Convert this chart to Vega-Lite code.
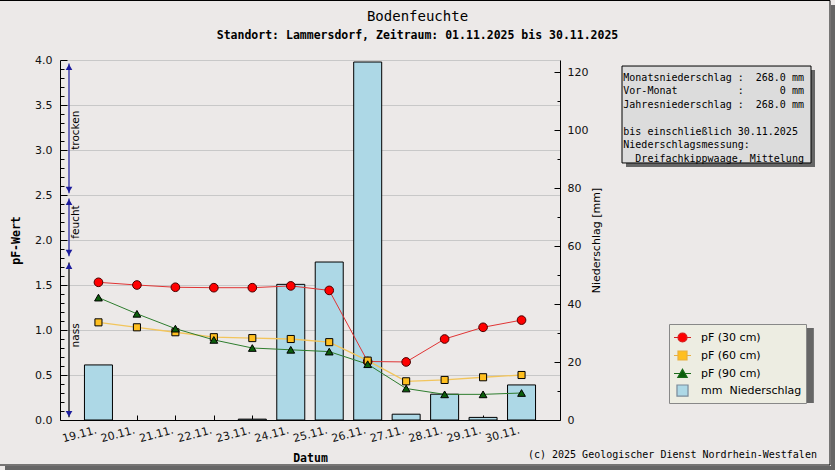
{
  "$schema": "https://vega.github.io/schema/vega-lite/v6.json",
  "width": 500,
  "height": 360,
  "autosize": "none",
  "padding": {"left": 60, "top": 60, "right": 275, "bottom": 50},
  "background": "#ECE9E8",
  "config": {"view": {"fill": "white", "stroke": null}, "font": "DejaVu Sans"},
  "title": {
    "text": "Bodenfeuchte",
    "subtitle": "Standort: Lammersdorf, Zeitraum: 01.11.2025 bis 30.11.2025",
    "anchor": "middle", "frame": "group", "dx": 107.5, "offset": -41,
    "font": "DejaVu Sans Mono", "fontSize": 14, "fontWeight": "normal", "color": "black",
    "subtitleFont": "DejaVu Sans Mono", "subtitleFontSize": 11.5, "subtitleFontWeight": "bold",
    "subtitleColor": "black", "subtitlePadding": 6
  },
  "datasets": {
    "soil": [
      {"day": 19, "p30": 1.53, "p60": 1.085, "p90": 1.36, "mm": 19.0},
      {"day": 20, "p30": 1.50, "p60": 1.03, "p90": 1.18, "mm": 0},
      {"day": 21, "p30": 1.475, "p60": 0.975, "p90": 1.015, "mm": 0},
      {"day": 22, "p30": 1.47, "p60": 0.92, "p90": 0.89, "mm": 0},
      {"day": 23, "p30": 1.47, "p60": 0.91, "p90": 0.80, "mm": 0.3},
      {"day": 24, "p30": 1.49, "p60": 0.90, "p90": 0.78, "mm": 46.8},
      {"day": 25, "p30": 1.44, "p60": 0.865, "p90": 0.76, "mm": 54.5},
      {"day": 26, "p30": 0.65, "p60": 0.66, "p90": 0.62, "mm": 123.5},
      {"day": 27, "p30": 0.645, "p60": 0.43, "p90": 0.35, "mm": 2.0},
      {"day": 28, "p30": 0.90, "p60": 0.445, "p90": 0.285, "mm": 8.9},
      {"day": 29, "p30": 1.03, "p60": 0.475, "p90": 0.285, "mm": 0.9},
      {"day": 30, "p30": 1.11, "p60": 0.50, "p90": 0.30, "mm": 12.1}
    ],
    "zones": [
      {"zone": "trocken", "top": 3.96, "bottom": 2.52, "mid": 3.22},
      {"zone": "feucht", "top": 2.46, "bottom": 1.82, "mid": 2.2},
      {"zone": "nass", "top": 1.75, "bottom": 0.03, "mid": 0.94}
    ]
  },
  "layer": [
    {
      "data": {"name": "soil"},
      "transform": [{"filter": "datum.mm > 0"}],
      "mark": {"type": "bar", "size": 28, "fill": "#ADD8E6", "stroke": "black", "strokeWidth": 1},
      "encoding": {
        "x": {
          "field": "day", "type": "quantitative",
          "scale": {"domain": [18, 31], "nice": false, "zero": false, "padding": 0},
          "axis": {
            "title": "Datum", "titleFont": "DejaVu Sans Mono", "titleFontWeight": "bold", "titleFontSize": 11.5,
            "titleColor": "black", "titlePadding": 9,
            "values": [19, 20, 21, 22, 23, 24, 25, 26, 27, 28, 29, 30],
            "labelExpr": "datum.value + '.11.'",
            "labelAngle": -15, "labelAlign": "right", "labelBaseline": "top", "labelOffset": -4,
            "labelFont": "DejaVu Sans", "labelFontSize": 11, "labelColor": "#111", "labelPadding": 9,
            "labelOverlap": false, "labelFlush": false,
            "tickSize": -5, "tickColor": "black", "domainColor": "black", "grid": false
          }
        },
        "y": {
          "field": "mm", "type": "quantitative",
          "scale": {"domain": [0, 124.2], "nice": false},
          "axis": {
            "orient": "right", "title": "Niederschlag [mm]", "titleFont": "DejaVu Sans", "titleFontWeight": "normal",
            "titleFontSize": 11, "titleColor": "black", "titlePadding": 14, "titleAngle": 270,
            "values": [0, 10, 20, 30, 40, 50, 60, 70, 80, 90, 100, 110, 120],
            "labelExpr": "datum.value % 20 == 0 ? datum.value : ''",
            "labelOverlap": false, "labelFont": "DejaVu Sans", "labelFontSize": 11, "labelColor": "#111", "labelPadding": 13,
            "tickSize": {"condition": {"test": "datum.value % 20 == 0", "value": -6}, "value": -3},
            "tickColor": "black", "domainColor": "black", "grid": false
          }
        }
      }
    },
    {
      "layer": [
        {
          "data": {"name": "soil"},
          "mark": {"type": "line", "stroke": "#e03434", "strokeWidth": 1},
          "encoding": {
            "x": {"field": "day", "type": "quantitative", "scale": {"domain": [18, 31], "nice": false, "zero": false, "padding": 0}},
            "y": {"field": "p30", "type": "quantitative", "scale": {"domain": [0, 4], "nice": false},
              "axis": {"orient": "left", "title": "pF-Wert", "titleFont": "DejaVu Sans Mono", "titleFontWeight": "bold", "titleFontSize": 11.5, "titleColor": "black", "titlePadding": 13, "values": [0, 0.1, 0.2, 0.3, 0.4, 0.5, 0.6, 0.7, 0.8, 0.9, 1.0, 1.1, 1.2, 1.3, 1.4, 1.5, 1.6, 1.7, 1.8, 1.9, 2.0, 2.1, 2.2, 2.3, 2.4, 2.5, 2.6, 2.7, 2.8, 2.9, 3.0, 3.1, 3.2, 3.3, 3.4, 3.5, 3.6, 3.7, 3.8, 3.9, 4.0], "labelExpr": "round(datum.value * 10) % 5 == 0 ? format(datum.value, '.1f') : ''", "labelOverlap": false, "labelFont": "DejaVu Sans", "labelFontSize": 11, "labelColor": "#111", "labelPadding": 15, "tickSize": {"condition": {"test": "round(datum.value * 10) % 5 == 0", "value": -7}, "value": -4}, "tickColor": "black", "domainColor": "black", "grid": true, "gridColor": "#c8c8c8", "gridOpacity": {"condition": {"test": "round(datum.value * 10) % 5 == 0", "value": 1}, "value": 0}}}
          }
        },
        {
          "data": {"name": "soil"},
          "mark": {"type": "line", "stroke": "#f2c55c", "strokeWidth": 1.3},
          "encoding": {
            "x": {"field": "day", "type": "quantitative", "scale": {"domain": [18, 31], "nice": false, "zero": false, "padding": 0}},
            "y": {"field": "p60", "type": "quantitative", "scale": {"domain": [0, 4], "nice": false},
              "axis": {"orient": "left", "title": "pF-Wert", "titleFont": "DejaVu Sans Mono", "titleFontWeight": "bold", "titleFontSize": 11.5, "titleColor": "black", "titlePadding": 13, "values": [0, 0.1, 0.2, 0.3, 0.4, 0.5, 0.6, 0.7, 0.8, 0.9, 1.0, 1.1, 1.2, 1.3, 1.4, 1.5, 1.6, 1.7, 1.8, 1.9, 2.0, 2.1, 2.2, 2.3, 2.4, 2.5, 2.6, 2.7, 2.8, 2.9, 3.0, 3.1, 3.2, 3.3, 3.4, 3.5, 3.6, 3.7, 3.8, 3.9, 4.0], "labelExpr": "round(datum.value * 10) % 5 == 0 ? format(datum.value, '.1f') : ''", "labelOverlap": false, "labelFont": "DejaVu Sans", "labelFontSize": 11, "labelColor": "#111", "labelPadding": 15, "tickSize": {"condition": {"test": "round(datum.value * 10) % 5 == 0", "value": -7}, "value": -4}, "tickColor": "black", "domainColor": "black", "grid": true, "gridColor": "#c8c8c8", "gridOpacity": {"condition": {"test": "round(datum.value * 10) % 5 == 0", "value": 1}, "value": 0}}}
          }
        },
        {
          "data": {"name": "soil"},
          "mark": {"type": "line", "stroke": "#2e7d2e", "strokeWidth": 1},
          "encoding": {
            "x": {"field": "day", "type": "quantitative", "scale": {"domain": [18, 31], "nice": false, "zero": false, "padding": 0}},
            "y": {"field": "p90", "type": "quantitative", "scale": {"domain": [0, 4], "nice": false},
              "axis": {"orient": "left", "title": "pF-Wert", "titleFont": "DejaVu Sans Mono", "titleFontWeight": "bold", "titleFontSize": 11.5, "titleColor": "black", "titlePadding": 13, "values": [0, 0.1, 0.2, 0.3, 0.4, 0.5, 0.6, 0.7, 0.8, 0.9, 1.0, 1.1, 1.2, 1.3, 1.4, 1.5, 1.6, 1.7, 1.8, 1.9, 2.0, 2.1, 2.2, 2.3, 2.4, 2.5, 2.6, 2.7, 2.8, 2.9, 3.0, 3.1, 3.2, 3.3, 3.4, 3.5, 3.6, 3.7, 3.8, 3.9, 4.0], "labelExpr": "round(datum.value * 10) % 5 == 0 ? format(datum.value, '.1f') : ''", "labelOverlap": false, "labelFont": "DejaVu Sans", "labelFontSize": 11, "labelColor": "#111", "labelPadding": 15, "tickSize": {"condition": {"test": "round(datum.value * 10) % 5 == 0", "value": -7}, "value": -4}, "tickColor": "black", "domainColor": "black", "grid": true, "gridColor": "#c8c8c8", "gridOpacity": {"condition": {"test": "round(datum.value * 10) % 5 == 0", "value": 1}, "value": 0}}}
          }
        },
        {
          "data": {"name": "soil"},
          "mark": {"type": "point", "shape": "circle", "filled": true, "fill": "#ff0000", "stroke": "#4a0000", "strokeWidth": 1, "size": 75, "opacity": 1},
          "encoding": {
            "x": {"field": "day", "type": "quantitative", "scale": {"domain": [18, 31], "nice": false, "zero": false, "padding": 0}},
            "y": {"field": "p30", "type": "quantitative", "scale": {"domain": [0, 4], "nice": false},
              "axis": {"orient": "left", "title": "pF-Wert", "titleFont": "DejaVu Sans Mono", "titleFontWeight": "bold", "titleFontSize": 11.5, "titleColor": "black", "titlePadding": 13, "values": [0, 0.1, 0.2, 0.3, 0.4, 0.5, 0.6, 0.7, 0.8, 0.9, 1.0, 1.1, 1.2, 1.3, 1.4, 1.5, 1.6, 1.7, 1.8, 1.9, 2.0, 2.1, 2.2, 2.3, 2.4, 2.5, 2.6, 2.7, 2.8, 2.9, 3.0, 3.1, 3.2, 3.3, 3.4, 3.5, 3.6, 3.7, 3.8, 3.9, 4.0], "labelExpr": "round(datum.value * 10) % 5 == 0 ? format(datum.value, '.1f') : ''", "labelOverlap": false, "labelFont": "DejaVu Sans", "labelFontSize": 11, "labelColor": "#111", "labelPadding": 15, "tickSize": {"condition": {"test": "round(datum.value * 10) % 5 == 0", "value": -7}, "value": -4}, "tickColor": "black", "domainColor": "black", "grid": true, "gridColor": "#c8c8c8", "gridOpacity": {"condition": {"test": "round(datum.value * 10) % 5 == 0", "value": 1}, "value": 0}}}
          }
        },
        {
          "data": {"name": "soil"},
          "mark": {"type": "point", "shape": "square", "filled": true, "fill": "#ffbf1f", "stroke": "black", "strokeWidth": 1, "size": 50, "opacity": 1},
          "encoding": {
            "x": {"field": "day", "type": "quantitative", "scale": {"domain": [18, 31], "nice": false, "zero": false, "padding": 0}},
            "y": {"field": "p60", "type": "quantitative", "scale": {"domain": [0, 4], "nice": false},
              "axis": {"orient": "left", "title": "pF-Wert", "titleFont": "DejaVu Sans Mono", "titleFontWeight": "bold", "titleFontSize": 11.5, "titleColor": "black", "titlePadding": 13, "values": [0, 0.1, 0.2, 0.3, 0.4, 0.5, 0.6, 0.7, 0.8, 0.9, 1.0, 1.1, 1.2, 1.3, 1.4, 1.5, 1.6, 1.7, 1.8, 1.9, 2.0, 2.1, 2.2, 2.3, 2.4, 2.5, 2.6, 2.7, 2.8, 2.9, 3.0, 3.1, 3.2, 3.3, 3.4, 3.5, 3.6, 3.7, 3.8, 3.9, 4.0], "labelExpr": "round(datum.value * 10) % 5 == 0 ? format(datum.value, '.1f') : ''", "labelOverlap": false, "labelFont": "DejaVu Sans", "labelFontSize": 11, "labelColor": "#111", "labelPadding": 15, "tickSize": {"condition": {"test": "round(datum.value * 10) % 5 == 0", "value": -7}, "value": -4}, "tickColor": "black", "domainColor": "black", "grid": true, "gridColor": "#c8c8c8", "gridOpacity": {"condition": {"test": "round(datum.value * 10) % 5 == 0", "value": 1}, "value": 0}}}
          }
        },
        {
          "data": {"name": "soil"},
          "mark": {"type": "point", "shape": "triangle-up", "filled": true, "fill": "#0b5e0b", "stroke": "black", "strokeWidth": 1, "size": 60, "opacity": 1},
          "encoding": {
            "x": {"field": "day", "type": "quantitative", "scale": {"domain": [18, 31], "nice": false, "zero": false, "padding": 0}},
            "y": {"field": "p90", "type": "quantitative", "scale": {"domain": [0, 4], "nice": false},
              "axis": {"orient": "left", "title": "pF-Wert", "titleFont": "DejaVu Sans Mono", "titleFontWeight": "bold", "titleFontSize": 11.5, "titleColor": "black", "titlePadding": 13, "values": [0, 0.1, 0.2, 0.3, 0.4, 0.5, 0.6, 0.7, 0.8, 0.9, 1.0, 1.1, 1.2, 1.3, 1.4, 1.5, 1.6, 1.7, 1.8, 1.9, 2.0, 2.1, 2.2, 2.3, 2.4, 2.5, 2.6, 2.7, 2.8, 2.9, 3.0, 3.1, 3.2, 3.3, 3.4, 3.5, 3.6, 3.7, 3.8, 3.9, 4.0], "labelExpr": "round(datum.value * 10) % 5 == 0 ? format(datum.value, '.1f') : ''", "labelOverlap": false, "labelFont": "DejaVu Sans", "labelFontSize": 11, "labelColor": "#111", "labelPadding": 15, "tickSize": {"condition": {"test": "round(datum.value * 10) % 5 == 0", "value": -7}, "value": -4}, "tickColor": "black", "domainColor": "black", "grid": true, "gridColor": "#c8c8c8", "gridOpacity": {"condition": {"test": "round(datum.value * 10) % 5 == 0", "value": 1}, "value": 0}}}
          }
        },
        {
          "data": {"name": "zones"},
          "mark": {"type": "rule", "strokeWidth": 1.2},
          "encoding": {
            "x": {"datum": 18.234, "type": "quantitative"},
            "y": {"field": "top", "type": "quantitative", "scale": {"domain": [0, 4], "nice": false},
              "axis": {"orient": "left", "title": "pF-Wert", "titleFont": "DejaVu Sans Mono", "titleFontWeight": "bold", "titleFontSize": 11.5, "titleColor": "black", "titlePadding": 13, "values": [0, 0.1, 0.2, 0.3, 0.4, 0.5, 0.6, 0.7, 0.8, 0.9, 1.0, 1.1, 1.2, 1.3, 1.4, 1.5, 1.6, 1.7, 1.8, 1.9, 2.0, 2.1, 2.2, 2.3, 2.4, 2.5, 2.6, 2.7, 2.8, 2.9, 3.0, 3.1, 3.2, 3.3, 3.4, 3.5, 3.6, 3.7, 3.8, 3.9, 4.0], "labelExpr": "round(datum.value * 10) % 5 == 0 ? format(datum.value, '.1f') : ''", "labelOverlap": false, "labelFont": "DejaVu Sans", "labelFontSize": 11, "labelColor": "#111", "labelPadding": 15, "tickSize": {"condition": {"test": "round(datum.value * 10) % 5 == 0", "value": -7}, "value": -4}, "tickColor": "black", "domainColor": "black", "grid": true, "gridColor": "#c8c8c8", "gridOpacity": {"condition": {"test": "round(datum.value * 10) % 5 == 0", "value": 1}, "value": 0}}},
            "y2": {"field": "bottom"},
            "stroke": {"condition": {"test": "datum.zone == 'nass'", "value": "black"}, "value": "#1c1c9c"}
          }
        },
        {
          "data": {"name": "zones"},
          "mark": {"type": "point", "shape": "triangle-up", "filled": true, "fill": "#1c1c9c", "strokeWidth": 0, "size": 45, "opacity": 1},
          "encoding": {
            "x": {"datum": 18.234, "type": "quantitative"},
            "y": {"field": "top", "type": "quantitative", "scale": {"domain": [0, 4], "nice": false},
              "axis": {"orient": "left", "title": "pF-Wert", "titleFont": "DejaVu Sans Mono", "titleFontWeight": "bold", "titleFontSize": 11.5, "titleColor": "black", "titlePadding": 13, "values": [0, 0.1, 0.2, 0.3, 0.4, 0.5, 0.6, 0.7, 0.8, 0.9, 1.0, 1.1, 1.2, 1.3, 1.4, 1.5, 1.6, 1.7, 1.8, 1.9, 2.0, 2.1, 2.2, 2.3, 2.4, 2.5, 2.6, 2.7, 2.8, 2.9, 3.0, 3.1, 3.2, 3.3, 3.4, 3.5, 3.6, 3.7, 3.8, 3.9, 4.0], "labelExpr": "round(datum.value * 10) % 5 == 0 ? format(datum.value, '.1f') : ''", "labelOverlap": false, "labelFont": "DejaVu Sans", "labelFontSize": 11, "labelColor": "#111", "labelPadding": 15, "tickSize": {"condition": {"test": "round(datum.value * 10) % 5 == 0", "value": -7}, "value": -4}, "tickColor": "black", "domainColor": "black", "grid": true, "gridColor": "#c8c8c8", "gridOpacity": {"condition": {"test": "round(datum.value * 10) % 5 == 0", "value": 1}, "value": 0}}},
            "yOffset": {"value": 3.5}
          }
        },
        {
          "data": {"name": "zones"},
          "mark": {"type": "point", "shape": "triangle-down", "filled": true, "fill": "#1c1c9c", "strokeWidth": 0, "size": 45, "opacity": 1},
          "encoding": {
            "x": {"datum": 18.234, "type": "quantitative"},
            "y": {"field": "bottom", "type": "quantitative", "scale": {"domain": [0, 4], "nice": false},
              "axis": {"orient": "left", "title": "pF-Wert", "titleFont": "DejaVu Sans Mono", "titleFontWeight": "bold", "titleFontSize": 11.5, "titleColor": "black", "titlePadding": 13, "values": [0, 0.1, 0.2, 0.3, 0.4, 0.5, 0.6, 0.7, 0.8, 0.9, 1.0, 1.1, 1.2, 1.3, 1.4, 1.5, 1.6, 1.7, 1.8, 1.9, 2.0, 2.1, 2.2, 2.3, 2.4, 2.5, 2.6, 2.7, 2.8, 2.9, 3.0, 3.1, 3.2, 3.3, 3.4, 3.5, 3.6, 3.7, 3.8, 3.9, 4.0], "labelExpr": "round(datum.value * 10) % 5 == 0 ? format(datum.value, '.1f') : ''", "labelOverlap": false, "labelFont": "DejaVu Sans", "labelFontSize": 11, "labelColor": "#111", "labelPadding": 15, "tickSize": {"condition": {"test": "round(datum.value * 10) % 5 == 0", "value": -7}, "value": -4}, "tickColor": "black", "domainColor": "black", "grid": true, "gridColor": "#c8c8c8", "gridOpacity": {"condition": {"test": "round(datum.value * 10) % 5 == 0", "value": 1}, "value": 0}}},
            "yOffset": {"value": -3.5}
          }
        },
        {
          "data": {"name": "zones"},
          "mark": {"type": "text", "angle": 270, "align": "center", "baseline": "middle", "font": "DejaVu Sans", "fontSize": 10.5, "color": "black"},
          "encoding": {
            "x": {"datum": 18.42, "type": "quantitative"},
            "y": {"field": "mid", "type": "quantitative", "scale": {"domain": [0, 4], "nice": false},
              "axis": {"orient": "left", "title": "pF-Wert", "titleFont": "DejaVu Sans Mono", "titleFontWeight": "bold", "titleFontSize": 11.5, "titleColor": "black", "titlePadding": 13, "values": [0, 0.1, 0.2, 0.3, 0.4, 0.5, 0.6, 0.7, 0.8, 0.9, 1.0, 1.1, 1.2, 1.3, 1.4, 1.5, 1.6, 1.7, 1.8, 1.9, 2.0, 2.1, 2.2, 2.3, 2.4, 2.5, 2.6, 2.7, 2.8, 2.9, 3.0, 3.1, 3.2, 3.3, 3.4, 3.5, 3.6, 3.7, 3.8, 3.9, 4.0], "labelExpr": "round(datum.value * 10) % 5 == 0 ? format(datum.value, '.1f') : ''", "labelOverlap": false, "labelFont": "DejaVu Sans", "labelFontSize": 11, "labelColor": "#111", "labelPadding": 15, "tickSize": {"condition": {"test": "round(datum.value * 10) % 5 == 0", "value": -7}, "value": -4}, "tickColor": "black", "domainColor": "black", "grid": true, "gridColor": "#c8c8c8", "gridOpacity": {"condition": {"test": "round(datum.value * 10) % 5 == 0", "value": 1}, "value": 0}}},
            "text": {"field": "zone"}
          }
        },
        {
          "data": {"values": [{"box": "info"}]},
          "mark": {"type": "rect", "fill": "#666666"},
          "encoding": {
            "x": {"datum": 32.716, "type": "quantitative"}, "x2": {"datum": 37.63},
            "y": {"datum": 3.889, "type": "quantitative", "scale": {"domain": [0, 4], "nice": false},
              "axis": {"orient": "left", "title": "pF-Wert", "titleFont": "DejaVu Sans Mono", "titleFontWeight": "bold", "titleFontSize": 11.5, "titleColor": "black", "titlePadding": 13, "values": [0, 0.1, 0.2, 0.3, 0.4, 0.5, 0.6, 0.7, 0.8, 0.9, 1.0, 1.1, 1.2, 1.3, 1.4, 1.5, 1.6, 1.7, 1.8, 1.9, 2.0, 2.1, 2.2, 2.3, 2.4, 2.5, 2.6, 2.7, 2.8, 2.9, 3.0, 3.1, 3.2, 3.3, 3.4, 3.5, 3.6, 3.7, 3.8, 3.9, 4.0], "labelExpr": "round(datum.value * 10) % 5 == 0 ? format(datum.value, '.1f') : ''", "labelOverlap": false, "labelFont": "DejaVu Sans", "labelFontSize": 11, "labelColor": "#111", "labelPadding": 15, "tickSize": {"condition": {"test": "round(datum.value * 10) % 5 == 0", "value": -7}, "value": -4}, "tickColor": "black", "domainColor": "black", "grid": true, "gridColor": "#c8c8c8", "gridOpacity": {"condition": {"test": "round(datum.value * 10) % 5 == 0", "value": 1}, "value": 0}}},
            "y2": {"datum": 2.811}
          }
        },
        {
          "data": {"values": [{"box": "info"}]},
          "mark": {"type": "rect", "fill": "#dcdcdc", "stroke": "black", "strokeWidth": 1},
          "encoding": {
            "x": {"datum": 32.612, "type": "quantitative"}, "x2": {"datum": 37.526},
            "y": {"datum": 3.933, "type": "quantitative", "scale": {"domain": [0, 4], "nice": false},
              "axis": {"orient": "left", "title": "pF-Wert", "titleFont": "DejaVu Sans Mono", "titleFontWeight": "bold", "titleFontSize": 11.5, "titleColor": "black", "titlePadding": 13, "values": [0, 0.1, 0.2, 0.3, 0.4, 0.5, 0.6, 0.7, 0.8, 0.9, 1.0, 1.1, 1.2, 1.3, 1.4, 1.5, 1.6, 1.7, 1.8, 1.9, 2.0, 2.1, 2.2, 2.3, 2.4, 2.5, 2.6, 2.7, 2.8, 2.9, 3.0, 3.1, 3.2, 3.3, 3.4, 3.5, 3.6, 3.7, 3.8, 3.9, 4.0], "labelExpr": "round(datum.value * 10) % 5 == 0 ? format(datum.value, '.1f') : ''", "labelOverlap": false, "labelFont": "DejaVu Sans", "labelFontSize": 11, "labelColor": "#111", "labelPadding": 15, "tickSize": {"condition": {"test": "round(datum.value * 10) % 5 == 0", "value": -7}, "value": -4}, "tickColor": "black", "domainColor": "black", "grid": true, "gridColor": "#c8c8c8", "gridOpacity": {"condition": {"test": "round(datum.value * 10) % 5 == 0", "value": 1}, "value": 0}}},
            "y2": {"datum": 2.856}
          }
        },
        {
          "data": {"values": [{"box": "info"}]},
          "mark": {
            "type": "text", "align": "left", "baseline": "top", "font": "DejaVu Sans Mono", "fontSize": 10,
            "lineHeight": 13.5, "lineBreak": "\n", "color": "black",
            "text": "Monatsniederschlag\u00a0:\u00a0\u00a0268.0\u00a0mm\nVor-Monat\u00a0\u00a0\u00a0\u00a0\u00a0\u00a0\u00a0\u00a0\u00a0\u00a0:\u00a0\u00a0\u00a0\u00a0\u00a0\u00a00\u00a0mm\nJahresniederschlag\u00a0:\u00a0\u00a0268.0\u00a0mm\n\u200b\nbis\u00a0einschließlich\u00a030.11.2025\nNiederschlagsmessung:\n\u200b\u00a0\u00a0Dreifachkippwaage,\u00a0Mittelung"
          },
          "encoding": {
            "x": {"datum": 32.646, "type": "quantitative"},
            "y": {"datum": 3.856, "type": "quantitative", "scale": {"domain": [0, 4], "nice": false},
              "axis": {"orient": "left", "title": "pF-Wert", "titleFont": "DejaVu Sans Mono", "titleFontWeight": "bold", "titleFontSize": 11.5, "titleColor": "black", "titlePadding": 13, "values": [0, 0.1, 0.2, 0.3, 0.4, 0.5, 0.6, 0.7, 0.8, 0.9, 1.0, 1.1, 1.2, 1.3, 1.4, 1.5, 1.6, 1.7, 1.8, 1.9, 2.0, 2.1, 2.2, 2.3, 2.4, 2.5, 2.6, 2.7, 2.8, 2.9, 3.0, 3.1, 3.2, 3.3, 3.4, 3.5, 3.6, 3.7, 3.8, 3.9, 4.0], "labelExpr": "round(datum.value * 10) % 5 == 0 ? format(datum.value, '.1f') : ''", "labelOverlap": false, "labelFont": "DejaVu Sans", "labelFontSize": 11, "labelColor": "#111", "labelPadding": 15, "tickSize": {"condition": {"test": "round(datum.value * 10) % 5 == 0", "value": -7}, "value": -4}, "tickColor": "black", "domainColor": "black", "grid": true, "gridColor": "#c8c8c8", "gridOpacity": {"condition": {"test": "round(datum.value * 10) % 5 == 0", "value": 1}, "value": 0}}}
          }
        },
        {
          "data": {"values": [{"box": "legend"}]},
          "mark": {"type": "rect", "fill": "#666666"},
          "encoding": {
            "x": {"datum": 33.94, "type": "quantitative"}, "x2": {"datum": 37.6},
            "y": {"datum": 1.022, "type": "quantitative", "scale": {"domain": [0, 4], "nice": false},
              "axis": {"orient": "left", "title": "pF-Wert", "titleFont": "DejaVu Sans Mono", "titleFontWeight": "bold", "titleFontSize": 11.5, "titleColor": "black", "titlePadding": 13, "values": [0, 0.1, 0.2, 0.3, 0.4, 0.5, 0.6, 0.7, 0.8, 0.9, 1.0, 1.1, 1.2, 1.3, 1.4, 1.5, 1.6, 1.7, 1.8, 1.9, 2.0, 2.1, 2.2, 2.3, 2.4, 2.5, 2.6, 2.7, 2.8, 2.9, 3.0, 3.1, 3.2, 3.3, 3.4, 3.5, 3.6, 3.7, 3.8, 3.9, 4.0], "labelExpr": "round(datum.value * 10) % 5 == 0 ? format(datum.value, '.1f') : ''", "labelOverlap": false, "labelFont": "DejaVu Sans", "labelFontSize": 11, "labelColor": "#111", "labelPadding": 15, "tickSize": {"condition": {"test": "round(datum.value * 10) % 5 == 0", "value": -7}, "value": -4}, "tickColor": "black", "domainColor": "black", "grid": true, "gridColor": "#c8c8c8", "gridOpacity": {"condition": {"test": "round(datum.value * 10) % 5 == 0", "value": 1}, "value": 0}}},
            "y2": {"datum": 0.189}
          }
        },
        {
          "data": {"values": [{"box": "frame"}]},
          "mark": {"type": "rect", "fill": null, "stroke": "black", "strokeWidth": 1},
          "encoding": {
            "x": {"datum": 16.4, "type": "quantitative"}, "x2": {"datum": 38.02},
            "y": {"datum": 4.661, "type": "quantitative", "scale": {"domain": [0, 4], "nice": false},
              "axis": {"orient": "left", "title": "pF-Wert", "titleFont": "DejaVu Sans Mono", "titleFontWeight": "bold", "titleFontSize": 11.5, "titleColor": "black", "titlePadding": 13, "values": [0, 0.1, 0.2, 0.3, 0.4, 0.5, 0.6, 0.7, 0.8, 0.9, 1.0, 1.1, 1.2, 1.3, 1.4, 1.5, 1.6, 1.7, 1.8, 1.9, 2.0, 2.1, 2.2, 2.3, 2.4, 2.5, 2.6, 2.7, 2.8, 2.9, 3.0, 3.1, 3.2, 3.3, 3.4, 3.5, 3.6, 3.7, 3.8, 3.9, 4.0], "labelExpr": "round(datum.value * 10) % 5 == 0 ? format(datum.value, '.1f') : ''", "labelOverlap": false, "labelFont": "DejaVu Sans", "labelFontSize": 11, "labelColor": "#111", "labelPadding": 15, "tickSize": {"condition": {"test": "round(datum.value * 10) % 5 == 0", "value": -7}, "value": -4}, "tickColor": "black", "domainColor": "black", "grid": true, "gridColor": "#c8c8c8", "gridOpacity": {"condition": {"test": "round(datum.value * 10) % 5 == 0", "value": 1}, "value": 0}}},
            "y2": {"datum": -0.5}
          }
        },
        {
          "data": {"values": [{"box": "frame"}]},
          "mark": {"type": "rect", "fill": "#666666"},
          "encoding": {
            "x": {"datum": 38.046, "type": "quantitative"}, "x2": {"datum": 38.3},
            "y": {"datum": 4.611, "type": "quantitative", "scale": {"domain": [0, 4], "nice": false},
              "axis": {"orient": "left", "title": "pF-Wert", "titleFont": "DejaVu Sans Mono", "titleFontWeight": "bold", "titleFontSize": 11.5, "titleColor": "black", "titlePadding": 13, "values": [0, 0.1, 0.2, 0.3, 0.4, 0.5, 0.6, 0.7, 0.8, 0.9, 1.0, 1.1, 1.2, 1.3, 1.4, 1.5, 1.6, 1.7, 1.8, 1.9, 2.0, 2.1, 2.2, 2.3, 2.4, 2.5, 2.6, 2.7, 2.8, 2.9, 3.0, 3.1, 3.2, 3.3, 3.4, 3.5, 3.6, 3.7, 3.8, 3.9, 4.0], "labelExpr": "round(datum.value * 10) % 5 == 0 ? format(datum.value, '.1f') : ''", "labelOverlap": false, "labelFont": "DejaVu Sans", "labelFontSize": 11, "labelColor": "#111", "labelPadding": 15, "tickSize": {"condition": {"test": "round(datum.value * 10) % 5 == 0", "value": -7}, "value": -4}, "tickColor": "black", "domainColor": "black", "grid": true, "gridColor": "#c8c8c8", "gridOpacity": {"condition": {"test": "round(datum.value * 10) % 5 == 0", "value": 1}, "value": 0}}},
            "y2": {"datum": -0.7}
          }
        },
        {
          "data": {"values": [{"box": "frame"}]},
          "mark": {"type": "rect", "fill": "#666666"},
          "encoding": {
            "x": {"datum": 16.57, "type": "quantitative"}, "x2": {"datum": 38.3},
            "y": {"datum": -0.511, "type": "quantitative", "scale": {"domain": [0, 4], "nice": false},
              "axis": {"orient": "left", "title": "pF-Wert", "titleFont": "DejaVu Sans Mono", "titleFontWeight": "bold", "titleFontSize": 11.5, "titleColor": "black", "titlePadding": 13, "values": [0, 0.1, 0.2, 0.3, 0.4, 0.5, 0.6, 0.7, 0.8, 0.9, 1.0, 1.1, 1.2, 1.3, 1.4, 1.5, 1.6, 1.7, 1.8, 1.9, 2.0, 2.1, 2.2, 2.3, 2.4, 2.5, 2.6, 2.7, 2.8, 2.9, 3.0, 3.1, 3.2, 3.3, 3.4, 3.5, 3.6, 3.7, 3.8, 3.9, 4.0], "labelExpr": "round(datum.value * 10) % 5 == 0 ? format(datum.value, '.1f') : ''", "labelOverlap": false, "labelFont": "DejaVu Sans", "labelFontSize": 11, "labelColor": "#111", "labelPadding": 15, "tickSize": {"condition": {"test": "round(datum.value * 10) % 5 == 0", "value": -7}, "value": -4}, "tickColor": "black", "domainColor": "black", "grid": true, "gridColor": "#c8c8c8", "gridOpacity": {"condition": {"test": "round(datum.value * 10) % 5 == 0", "value": 1}, "value": 0}}},
            "y2": {"datum": -0.7}
          }
        },
        {
          "data": {"values": [{"box": "copyright"}]},
          "mark": {"type": "text", "align": "right", "baseline": "middle", "font": "DejaVu Sans Mono", "fontSize": 10, "color": "black",
            "text": "(c) 2025 Geologischer Dienst Nordrhein-Westfalen"},
          "encoding": {
            "x": {"datum": 37.68, "type": "quantitative"},
            "y": {"datum": -0.389, "type": "quantitative", "scale": {"domain": [0, 4], "nice": false},
              "axis": {"orient": "left", "title": "pF-Wert", "titleFont": "DejaVu Sans Mono", "titleFontWeight": "bold", "titleFontSize": 11.5, "titleColor": "black", "titlePadding": 13, "values": [0, 0.1, 0.2, 0.3, 0.4, 0.5, 0.6, 0.7, 0.8, 0.9, 1.0, 1.1, 1.2, 1.3, 1.4, 1.5, 1.6, 1.7, 1.8, 1.9, 2.0, 2.1, 2.2, 2.3, 2.4, 2.5, 2.6, 2.7, 2.8, 2.9, 3.0, 3.1, 3.2, 3.3, 3.4, 3.5, 3.6, 3.7, 3.8, 3.9, 4.0], "labelExpr": "round(datum.value * 10) % 5 == 0 ? format(datum.value, '.1f') : ''", "labelOverlap": false, "labelFont": "DejaVu Sans", "labelFontSize": 11, "labelColor": "#111", "labelPadding": 15, "tickSize": {"condition": {"test": "round(datum.value * 10) % 5 == 0", "value": -7}, "value": -4}, "tickColor": "black", "domainColor": "black", "grid": true, "gridColor": "#c8c8c8", "gridOpacity": {"condition": {"test": "round(datum.value * 10) % 5 == 0", "value": 1}, "value": 0}}}
          }
        },
        {
          "data": {"values": []},
          "mark": {"type": "point", "filled": true, "opacity": 1},
          "encoding": {
            "fill": {
              "field": "series", "type": "nominal",
              "scale": {"domain": ["pF (30 cm)", "pF (60 cm)", "pF (90 cm)", "mm\u00a0\u00a0Niederschlag"], "range": ["#ff0000", "#ffbf1f", "#0b5e0b", "#add8e6"]},
              "legend": {"title": null, "orient": "none", "legendX": 609, "legendY": 264, "fillColor": "#EDEDE2", "strokeColor": "#888888", "padding": 4, "rowPadding": 1, "symbolSize": 289, "symbolStrokeWidth": 1.2, "labelFont": "DejaVu Sans", "labelFontSize": 11, "labelColor": "black", "labelOffset": 9}
            },
            "stroke": {
              "field": "series", "type": "nominal",
              "scale": {"domain": ["pF (30 cm)", "pF (60 cm)", "pF (90 cm)", "mm\u00a0\u00a0Niederschlag"], "range": ["#d42020", "#e8b040", "#1a6b1a", "#7a8a99"]},
              "legend": {"title": null, "orient": "none", "legendX": 609, "legendY": 264, "fillColor": "#EDEDE2", "strokeColor": "#888888", "padding": 4, "rowPadding": 1, "symbolSize": 289, "symbolStrokeWidth": 1.2, "labelFont": "DejaVu Sans", "labelFontSize": 11, "labelColor": "black", "labelOffset": 9}
            },
            "shape": {
              "field": "series", "type": "nominal",
              "scale": {"domain": ["pF (30 cm)", "pF (60 cm)", "pF (90 cm)", "mm\u00a0\u00a0Niederschlag"], "range": [
                "M-1,0H-0.53M0.53,0H1M0.53,0A0.53,0.53,0,1,1,-0.53,0A0.53,0.53,0,1,1,0.53,0Z",
                "M-1,0H-0.53M0.53,0H1M-0.53,-0.53H0.53V0.53H-0.53Z",
                "M-1,0H-0.3M0.3,0H1M0,-0.5L0.55,0.45H-0.55Z",
                "M-0.65,-0.65H0.65V0.65H-0.65Z"
              ]},
              "legend": {"title": null, "orient": "none", "legendX": 609, "legendY": 264, "fillColor": "#EDEDE2", "strokeColor": "#888888", "padding": 4, "rowPadding": 1, "symbolSize": 289, "symbolStrokeWidth": 1.2, "labelFont": "DejaVu Sans", "labelFontSize": 11, "labelColor": "black", "labelOffset": 9}
            }
          }
        }
      ]
    }
  ],
  "resolve": {"scale": {"y": "independent"}}
}
